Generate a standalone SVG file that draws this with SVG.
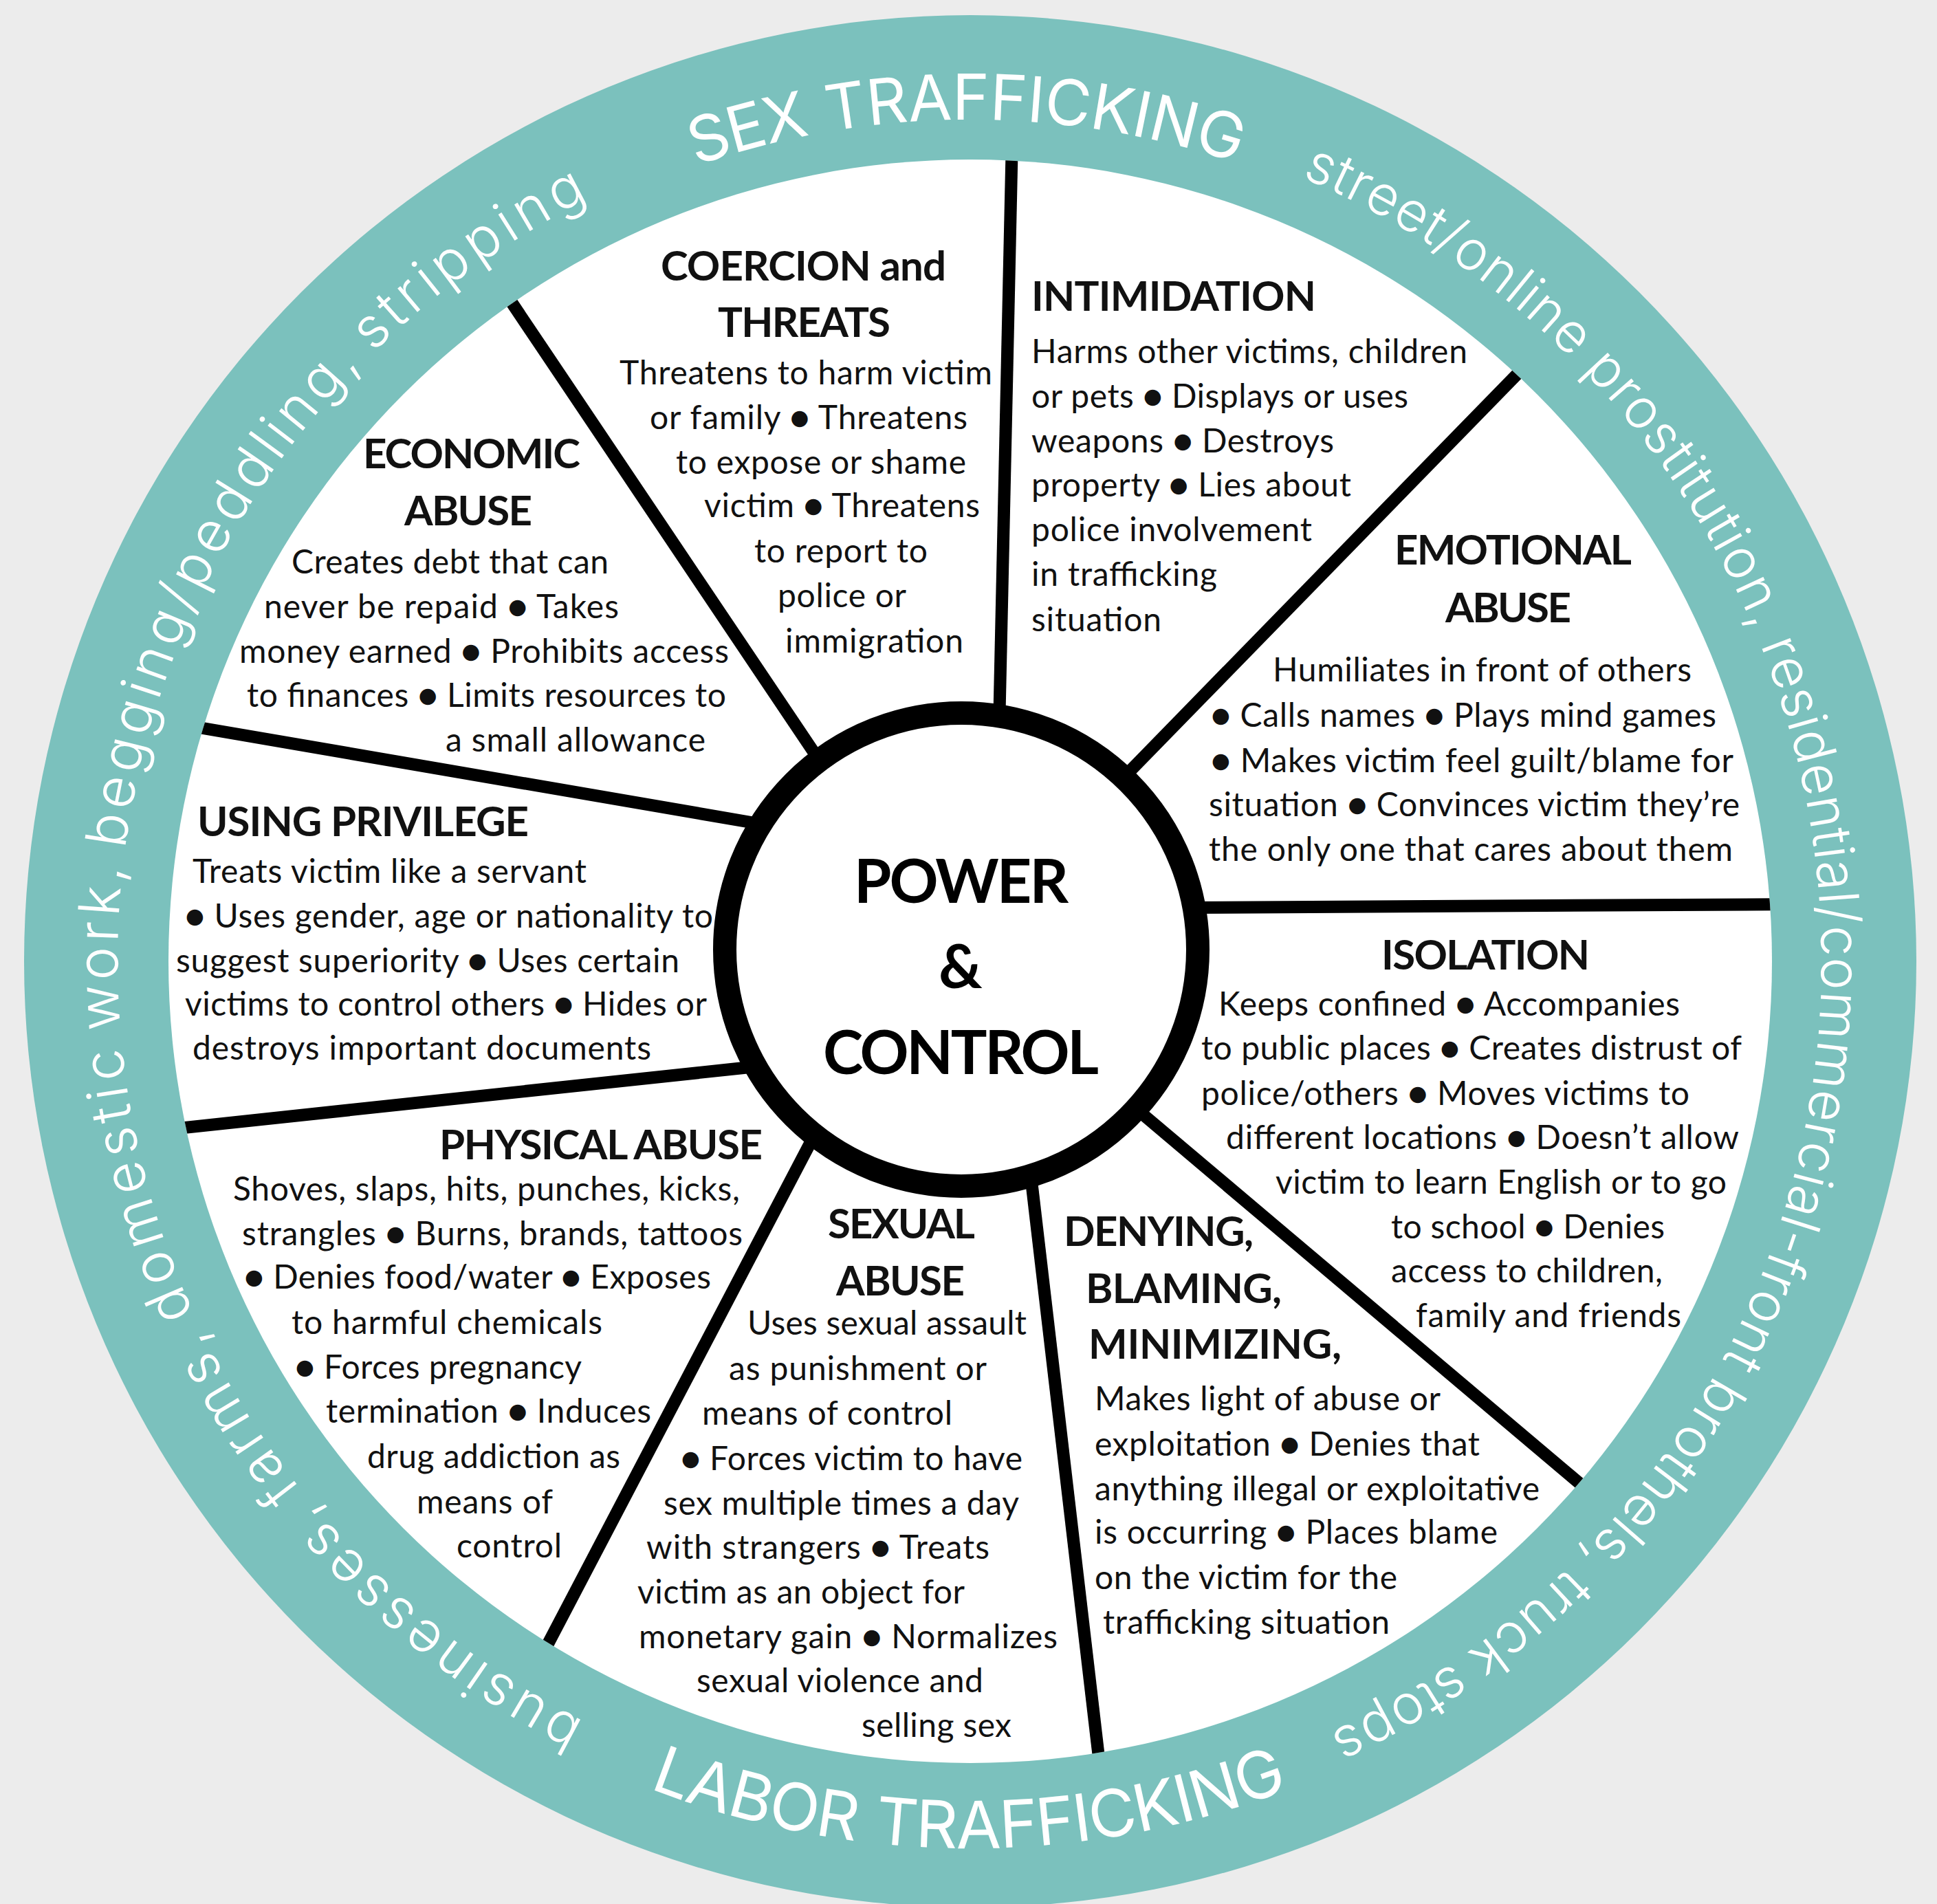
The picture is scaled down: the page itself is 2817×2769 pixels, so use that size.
<svg xmlns="http://www.w3.org/2000/svg" width="2817" height="2769" viewBox="0 0 2817 2769">
<style>
.b{font-family:Lato,"Liberation Sans",sans-serif;font-size:48px;fill:#111}
.h{font-family:Lato,"Liberation Sans",sans-serif;font-size:60px;font-weight:700;fill:#111}
.c{font-family:Lato,"Liberation Sans",sans-serif;font-size:88px;font-weight:700;fill:#000}
.r{font-family:Inter,"Open Sans",sans-serif;font-weight:300;fill:#fff}
.rc{font-family:Inter,"Open Sans",sans-serif;font-weight:400;fill:#fff}
.sp{stroke:#000;stroke-width:18;fill:none}
</style>
<defs>
<clipPath id="wc"><circle cx="1411" cy="1398" r="1166"/></clipPath>
<path id="pSex" d="M1012.5,240.7 A1224,1224 0 0 1 1799.4,237.3"/>
<path id="pLab" d="M944.5,2600.7 A1290,1290 0 0 0 1875.4,2601.5"/>
<path id="pRight" d="M1892.7,257.6 A1238,1238 0 0 1 1933.2,2520.5"/>
<path id="pLeft" d="M850.0,2503.8 A1240,1240 0 0 1 855.8,289.3"/>
</defs>
<rect width="2817" height="2769" fill="#ececec"/>
<g id="wheel">
<circle cx="1411" cy="1398" r="1376" fill="#7bc1bd"/>
<circle cx="1411" cy="1398" r="1166" fill="#fff"/>
</g>
<g id="connectors" clip-path="url(#wc)">
<line class="sp" x1="1472" y1="200" x2="1453" y2="1060"/>
<line class="sp" x1="2230" y1="520" x2="1630" y2="1135"/>
<line class="sp" x1="2620" y1="1315" x2="1720" y2="1320"/>
<line class="sp" x1="1640" y1="1602" x2="2330" y2="2185"/>
<line class="sp" x1="1498" y1="1700" x2="1602" y2="2590"/>
<line class="sp" x1="1190" y1="1640" x2="780" y2="2423"/>
<line class="sp" x1="1110" y1="1550" x2="230" y2="1644"/>
<line class="sp" x1="1110" y1="1199" x2="260" y2="1053"/>
<line class="sp" x1="1197" y1="1114" x2="720" y2="404"/>
</g>
<g id="center">
<circle cx="1398" cy="1381" r="344" fill="#fff" stroke="#000" stroke-width="34"/>
<text class="c" x="1242" y="1313" textLength="312">POWER</text>
<text class="c" x="1365" y="1437" textLength="63">&amp;</text>
<text class="c" x="1197" y="1562" textLength="401">CONTROL</text>
</g>
<g id="ring-labels">
<text class="rc" font-size="92"><textPath href="#pSex" startOffset="0" textLength="172">SEX</textPath></text>
<text class="rc" font-size="92"><textPath href="#pSex" startOffset="199" textLength="602">TRAFFICKING</textPath></text>
<text class="rc" font-size="95"><textPath href="#pLab" startOffset="0" textLength="310">LABOR</textPath></text>
<text class="rc" font-size="95"><textPath href="#pLab" startOffset="337" textLength="615">TRAFFICKING</textPath></text>
<text class="r" font-size="80"><textPath href="#pRight" startOffset="0" textLength="476">street/online</textPath></text>
<text class="r" font-size="80"><textPath href="#pRight" startOffset="499" textLength="456">prostitution,</textPath></text>
<text class="r" font-size="80"><textPath href="#pRight" startOffset="978" textLength="1076">residential/commercial-front</textPath></text>
<text class="r" font-size="80"><textPath href="#pRight" startOffset="2077" textLength="331">brothels,</textPath></text>
<text class="r" font-size="80"><textPath href="#pRight" startOffset="2430" textLength="194">truck</textPath></text>
<text class="r" font-size="80"><textPath href="#pRight" startOffset="2647" textLength="208">stops</textPath></text>
<text class="r" font-size="82"><textPath href="#pLeft" startOffset="0" textLength="511">businesses,</textPath></text>
<text class="r" font-size="82"><textPath href="#pLeft" startOffset="538" textLength="273">farms,</textPath></text>
<text class="r" font-size="82"><textPath href="#pLeft" startOffset="837" textLength="403">domestic</textPath></text>
<text class="r" font-size="82"><textPath href="#pLeft" startOffset="1266" textLength="237">work,</textPath></text>
<text class="r" font-size="82"><textPath href="#pLeft" startOffset="1529" textLength="796">begging/peddling,</textPath></text>
<text class="r" font-size="82"><textPath href="#pLeft" startOffset="2351" textLength="387">stripping</textPath></text>
</g>
<g id="coercion">
<text class="h" x="961" y="408" textLength="415">COERCION and</text>
<text class="h" x="1044" y="490" textLength="251">THREATS</text>
<text class="b" x="901" y="559" textLength="542">Threatens to harm victim</text>
<text class="b" x="945" y="624" textLength="462">or family ● Threatens</text>
<text class="b" x="983" y="689" textLength="422">to expose or shame</text>
<text class="b" x="1024" y="752" textLength="401">victim ● Threatens</text>
<text class="b" x="1097" y="818" textLength="252">to report to</text>
<text class="b" x="1131" y="883" textLength="187">police or</text>
<text class="b" x="1142" y="949" textLength="259">immigration</text>
</g>
<g id="intimidation">
<text class="h" x="1500" y="452" textLength="414">INTIMIDATION</text>
<text class="b" x="1500" y="528" textLength="634">Harms other victims, children</text>
<text class="b" x="1500" y="593" textLength="548">or pets ● Displays or uses</text>
<text class="b" x="1500" y="658" textLength="440">weapons ● Destroys</text>
<text class="b" x="1500" y="722" textLength="465">property ● Lies about</text>
<text class="b" x="1500" y="787" textLength="408">police involvement</text>
<text class="b" x="1500" y="852" textLength="270">in trafficking</text>
<text class="b" x="1500" y="918" textLength="189">situation</text>
</g>
<g id="emotional">
<text class="h" x="2028" y="821" textLength="345">EMOTIONAL</text>
<text class="h" x="2102" y="905" textLength="183">ABUSE</text>
<text class="b" x="1851" y="991" textLength="609">Humiliates in front of others</text>
<text class="b" x="1761" y="1057" textLength="735">● Calls names ● Plays mind games</text>
<text class="b" x="1761" y="1123" textLength="760">● Makes victim feel guilt/blame for</text>
<text class="b" x="1758" y="1187" textLength="772">situation ● Convinces victim they’re</text>
<text class="b" x="1758" y="1252" textLength="762">the only one that cares about them</text>
</g>
<g id="isolation">
<text class="h" x="2009" y="1410" textLength="303">ISOLATION</text>
<text class="b" x="1772" y="1477" textLength="671">Keeps confined ● Accompanies</text>
<text class="b" x="1747" y="1541" textLength="786">to public places ● Creates distrust of</text>
<text class="b" x="1747" y="1607" textLength="710">police/others ● Moves victims to</text>
<text class="b" x="1783" y="1671" textLength="746">different locations ● Doesn’t allow</text>
<text class="b" x="1855" y="1736" textLength="656">victim to learn English or to go</text>
<text class="b" x="2023" y="1801" textLength="398">to school ● Denies</text>
<text class="b" x="2023" y="1865" textLength="395">access to children,</text>
<text class="b" x="2059" y="1930" textLength="386">family and friends</text>
</g>
<g id="denying">
<text class="h" x="1547" y="1812" textLength="276">DENYING,</text>
<text class="h" x="1579" y="1895" textLength="285">BLAMING,</text>
<text class="h" x="1583" y="1976" textLength="368">MINIMIZING,</text>
<text class="b" x="1592" y="2051" textLength="503">Makes light of abuse or</text>
<text class="b" x="1592" y="2117" textLength="560">exploitation ● Denies that</text>
<text class="b" x="1592" y="2182" textLength="647">anything illegal or exploitative</text>
<text class="b" x="1592" y="2245" textLength="586">is occurring ● Places blame</text>
<text class="b" x="1592" y="2311" textLength="440">on the victim for the</text>
<text class="b" x="1604" y="2376" textLength="417">trafficking situation</text>
</g>
<g id="sexual">
<text class="h" x="1204" y="1801" textLength="214">SEXUAL</text>
<text class="h" x="1216" y="1884" textLength="187">ABUSE</text>
<text class="b" x="1087" y="1941" textLength="406">Uses sexual assault</text>
<text class="b" x="1060" y="2007" textLength="375">as punishment or</text>
<text class="b" x="1021" y="2072" textLength="364">means of control</text>
<text class="b" x="990" y="2138" textLength="497">● Forces victim to have</text>
<text class="b" x="965" y="2203" textLength="517">sex multiple times a day</text>
<text class="b" x="940" y="2267" textLength="499">with strangers ● Treats</text>
<text class="b" x="927" y="2332" textLength="476">victim as an object for</text>
<text class="b" x="929" y="2397" textLength="609">monetary gain ● Normalizes</text>
<text class="b" x="1013" y="2461" textLength="417">sexual violence and</text>
<text class="b" x="1253" y="2526" textLength="218">selling sex</text>
</g>
<g id="physical">
<text class="h" x="639" y="1686" textLength="470">PHYSICAL ABUSE</text>
<text class="b" x="339" y="1746" textLength="737">Shoves, slaps, hits, punches, kicks,</text>
<text class="b" x="352" y="1811" textLength="728">strangles ● Burns, brands, tattoos</text>
<text class="b" x="355" y="1874" textLength="679">● Denies food/water ● Exposes</text>
<text class="b" x="424" y="1940" textLength="452">to harmful chemicals</text>
<text class="b" x="429" y="2005" textLength="417">● Forces pregnancy</text>
<text class="b" x="474" y="2069" textLength="473">termination ● Induces</text>
<text class="b" x="534" y="2135" textLength="368">drug addiction as</text>
<text class="b" x="606" y="2201" textLength="198">means of</text>
<text class="b" x="664" y="2265" textLength="153">control</text>
</g>
<g id="privilege">
<text class="h" x="287" y="1216" textLength="482">USING PRIVILEGE</text>
<text class="b" x="280" y="1284" textLength="573">Treats victim like a servant</text>
<text class="b" x="269" y="1349" textLength="768">● Uses gender, age or nationality to</text>
<text class="b" x="256" y="1414" textLength="732">suggest superiority ● Uses certain</text>
<text class="b" x="269" y="1477" textLength="759">victims to control others ● Hides or</text>
<text class="b" x="280" y="1541" textLength="667">destroys important documents</text>
</g>
<g id="economic">
<text class="h" x="528" y="681" textLength="316">ECONOMIC</text>
<text class="h" x="588" y="764" textLength="186">ABUSE</text>
<text class="b" x="424" y="834" textLength="461">Creates debt that can</text>
<text class="b" x="384" y="899" textLength="516">never be repaid ● Takes</text>
<text class="b" x="348" y="964" textLength="712">money earned ● Prohibits access</text>
<text class="b" x="359" y="1028" textLength="697">to finances ● Limits resources to</text>
<text class="b" x="648" y="1093" textLength="378">a small allowance</text>
</g>
</svg>
